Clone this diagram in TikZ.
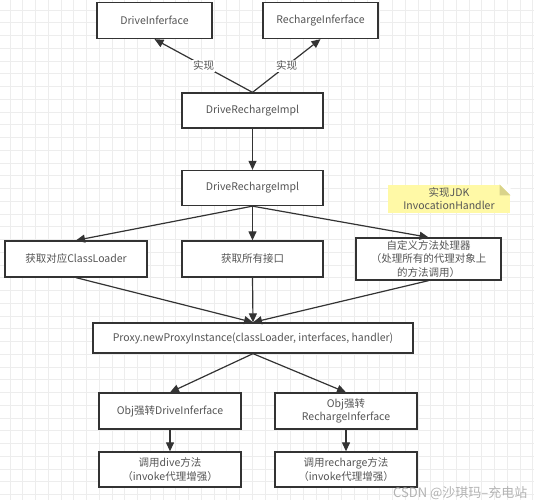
\documentclass[tikz,border=0pt]{standalone}
\usepackage{fontspec}
\setmainfont{Noto Sans CJK SC}
\usepackage{tikz}
\usetikzlibrary{arrows.meta}
\definecolor{boxline}{HTML}{333333}
\definecolor{txt}{HTML}{555555}
\definecolor{notefill}{HTML}{FFF9A6}
\definecolor{notefold}{HTML}{D9D38A}
\definecolor{gridc}{HTML}{EDEDED}
\tikzset{box/.style={rectangle, draw=boxline, line width=1.3pt, fill=white, text=txt, align=center, minimum width=141pt, minimum height=36pt, inner sep=1pt, font=\fontsize{10.5}{13.5}\selectfont}}
\tikzset{note/.style={rectangle, fill=notefill, text=txt, align=center, minimum width=122pt, minimum height=28pt, inner sep=1pt, font=\fontsize{10.5}{13}\selectfont}}
\tikzset{lbl/.style={fill=white, text=txt, inner sep=1pt, font=\fontsize{10.5}{12}\selectfont}}

\begin{document}
\begin{tikzpicture}[
	x=1pt, y=-1pt,
	->,
	>={Triangle[length=9pt,width=8pt]},
	line width=1.2pt,
	draw=boxline,
	]
	\useasboundingbox (0,0) rectangle (534,500);
	% grid
	\foreach \i in {0,...,41}
		\draw[-, gridc, line width=0.6pt] (10+12.75*\i,0) -- (10+12.75*\i,500);
	\foreach \i in {0,...,39}
		\draw[-, gridc, line width=0.6pt] (0,10+12.75*\i) -- (534,10+12.75*\i);

	\node [box, minimum width=115pt] (DI)    at (154.5,20.5) {DriveInferface};
	\node [box, minimum width=115pt] (RI)    at (320.5,20.5) {RechargeInferface};
	\node [box, minimum height=35pt] (impl)  at (252.5,110.5) {DriveRechargeImpl};
	\node [box, minimum height=35pt] (impl2) at (252.5,188) {DriveRechargeImpl};
	\node [note]                     (jdk)   at (449,199) {实现JDK\\InvocationHandler};
	\node [box, minimum width=142pt] (cl)    at (76,259) {获取对应ClassLoader};
	\node [box]                      (ifs)   at (252.5,259) {获取所有接口};
	\node [box, minimum width=145pt, minimum height=42pt] (hd) at (428.5,259) {自定义方法处理器\\（处理所有的代理对象上\\的方法调用）};
	\node [box, minimum width=320pt, minimum height=30pt] (proxy) at (253,338) {Proxy.newProxyInstance(classLoader, interfaces, handler)};
	\node [box, minimum width=142pt] (castD) at (170,411) {Obj强转DriveInferface};
	\node [box, minimum width=142pt] (castR) at (346,411) {Obj强转\\RechargeInferface};
	\node [box, minimum width=142pt, minimum height=35pt] (callD) at (170,469.5) {调用dive方法\\（invoke代理增强）};
	\node [box, minimum width=142pt, minimum height=35pt] (callR) at (346,469.5) {调用recharge方法\\（invoke代理增强）};

	% folded corner of the note
	\fill[white] ([xshift=-11pt]jdk.north east) -- (jdk.north east) -- ([yshift=-11pt]jdk.north east) -- cycle;
	\fill[notefold] ([xshift=-11pt]jdk.north east) -- ([yshift=-11pt]jdk.north east) -- ([xshift=-11pt,yshift=-11pt]jdk.north east) -- cycle;

	\draw (impl.north) -- node[lbl] {实现} (DI.south);
	\draw (impl.north) -- node[lbl] {实现} (RI.south);
	\draw (impl) -- (impl2);

	\draw (impl2.south) -- (cl.north);
	\draw (impl2.south) -- (ifs.north);
	\draw (impl2.south) -- (hd.north);

	\draw (cl.south) -- (proxy.north);
	\draw (ifs.south) -- (proxy.north);
	\draw (hd.south) -- (proxy.north);

	\draw (proxy.south) -- (castD.north);
	\draw (proxy.south) -- (castR.north);
	\draw (castD) -- (callD);
	\draw (castR) -- (callR);

	% watermark
	\node [text=gray!60, font=\fontsize{13}{13}\selectfont, anchor=east, inner sep=0pt] (wm) at (528,493.5) {CSDN @沙琪玛--充电站};
\end{tikzpicture}
\end{document}
